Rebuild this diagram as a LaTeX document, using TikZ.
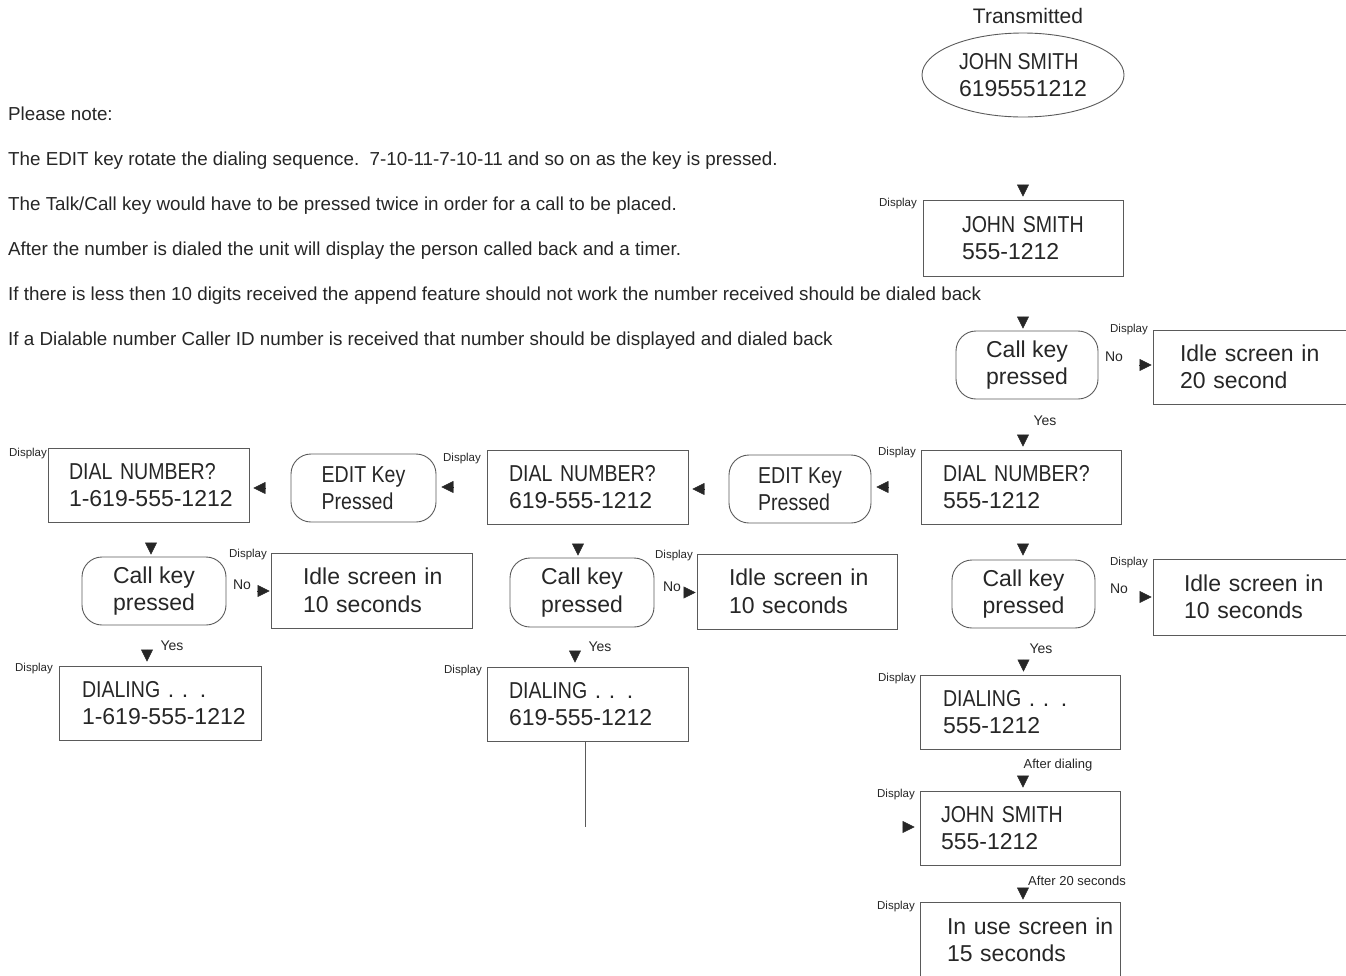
\documentclass[tikz,border=0pt]{standalone}
\usepackage{fontspec}
\setmainfont{Liberation Sans}
\newfontfamily\cnd{Liberation Sans}[FakeStretch=0.85]
\usetikzlibrary{arrows.meta,shapes.geometric}
\definecolor{ink}{HTML}{262626}
\definecolor{edge}{HTML}{5A5A5A}
\begin{document}
\begin{tikzpicture}[x=1pt,y=-1pt,
  every node/.style={text=ink},
  big/.style={font=\fontsize{23}{27.5}\selectfont},
  scr/.style={draw=edge, line width=0.9pt, big, align=left, inner ysep=0pt},
  key/.style={draw=edge, line width=0.9pt, big, rounded corners=20pt, inner sep=0pt},
  disp/.style={font=\fontsize{11.5}{13}\selectfont, inner sep=0pt},
  lbl/.style={font=\fontsize{14}{16}\selectfont, inner sep=0pt},
  small/.style={font=\fontsize{13}{15}\selectfont, inner sep=0pt},
  note/.style={font=\fontsize{18.8}{22}\selectfont, anchor=west, inner sep=0pt},
  tipc/.style 2 args={-{Triangle[length=12pt,width=12pt]}, draw=ink, fill=ink, line width=0.4pt, shorten <=#1, shorten >=#2},
  plain/.style={draw=edge, line width=0.9pt}
]
\useasboundingbox (0,0) rectangle (1346,975);
\clip (0,0) rectangle (1346,975);

% notes
\node[note] (n0) at (8,114) {Please note:};
\node[note] (n1) at (8,161) {The EDIT key rotate the dialing sequence.\ \ 7-10-11-7-10-11 and so on as the key is pressed.};
\node[note] (n2) at (8,206) {The Talk/Call key would have to be pressed twice in order for a call to be placed.};
\node[note] (n3) at (8,251) {After the number is dialed the unit will display the person called back and a timer.};
\node[note] (n4) at (8,296) {If there is less then 10 digits received the append feature should not work the number received should be dialed back};
\node[note] (n5) at (8,341) {If a Dialable number Caller ID number is received that number should be displayed and dialed back};

% transmitted
\node[font=\fontsize{21}{24}\selectfont, inner sep=0pt] (ttl) at (1028,16) {Transmitted};
\node[ellipse, draw=edge, line width=0.9pt, big, align=left, minimum width=202, minimum height=84, inner sep=0pt] (tx) at (1023,75) {{\cnd JOHN SMITH}\\6195551212};

% right column
\node[scr, minimum width=200, minimum height=76, text width=122, inner xsep=39] (js1) at (1023,238) {\mbox{\cnd JOHN SMITH}\\\mbox{555-1212}};
\node[key, minimum width=142, minimum height=68, align=center] (ck1) at (1027,365) {Call key\\pressed};
\node[scr, minimum width=207, minimum height=74, text width=153, inner xsep=27] (id20) at (1256.5,367) {\mbox{Idle screen in}\\\mbox{20 second}};
\node[scr, minimum width=200, minimum height=74, text width=156, inner xsep=22] (dn1) at (1021,487) {\mbox{\cnd DIAL NUMBER?}\\\mbox{555-1212}};
\node[key, minimum width=142, minimum height=68, align=left] (e1) at (800,489) {{\cnd EDIT Key}\\{\cnd Pressed}};
\node[scr, minimum width=201, minimum height=74, text width=157, inner xsep=22] (dn2) at (587.5,487) {\mbox{\cnd DIAL NUMBER?}\\\mbox{619-555-1212}};
\node[key, minimum width=145, minimum height=68, align=left] (e2) at (363.5,488) {{\cnd EDIT Key}\\{\cnd Pressed}};
\node[scr, minimum width=201, minimum height=74, text width=159, inner xsep=21] (dn3) at (148.5,485) {\mbox{\cnd DIAL NUMBER?}\\\mbox{1-619-555-1212}};

% left column
\node[key, minimum width=144, minimum height=68, align=center] (ck3) at (154,591) {Call key\\pressed};
\node[scr, minimum width=201, minimum height=75, text width=137, inner xsep=32] (id3) at (371.5,590.5) {\mbox{Idle screen in}\\\mbox{10 seconds}};
\node[scr, minimum width=202, minimum height=74, text width=156, inner xsep=23] (dl3) at (160,703) {\mbox{{\cnd DIALING} . . .}\\\mbox{1-619-555-1212}};

% middle column
\node[key, minimum width=144, minimum height=69, align=center] (ck2) at (582,592.5) {Call key\\pressed};
\node[scr, minimum width=200, minimum height=75, text width=136, inner xsep=32] (id2) at (797,591.5) {\mbox{Idle screen in}\\\mbox{10 seconds}};
\node[scr, minimum width=201, minimum height=74, text width=157, inner xsep=22] (dl2) at (587.5,704) {\mbox{{\cnd DIALING} . . .}\\\mbox{619-555-1212}};

% right lower column
\node[key, minimum width=143, minimum height=68, align=center] (ck1b) at (1023.5,594) {Call key\\pressed};
\node[scr, minimum width=207, minimum height=76, text width=145, inner xsep=31] (id1) at (1256.5,597) {\mbox{Idle screen in}\\\mbox{10 seconds}};
\node[scr, minimum width=200, minimum height=74, text width=154, inner xsep=23] (dl1) at (1020,712) {\mbox{{\cnd DIALING} . . .}\\\mbox{555-1212}};
\node[scr, minimum width=200, minimum height=74, text width=158, inner xsep=21] (js2) at (1020,828) {\mbox{\cnd JOHN SMITH}\\\mbox{555-1212}};
\node[scr, minimum width=200, minimum height=76, text width=146, inner xsep=27] (iu) at (1020,940) {\mbox{In use screen in}\\\mbox{15 seconds}};

% Display labels
\node[disp] (d1) at (898,204) {Display};
\node[disp] (d2) at (1129,330) {Display};
\node[disp] (d3) at (897,453) {Display};
\node[disp] (d4) at (462,459) {Display};
\node[disp] (d5) at (28,454) {Display};
\node[disp] (d6) at (248,555) {Display};
\node[disp] (d7) at (34,669) {Display};
\node[disp] (d8) at (674,556) {Display};
\node[disp] (d9) at (463,671) {Display};
\node[disp] (d10) at (1129,563) {Display};
\node[disp] (d11) at (897,679) {Display};
\node[disp] (d12) at (896,795) {Display};
\node[disp] (d13) at (896,907) {Display};

% Yes / No labels
\node[lbl] (no1) at (1114,357) {No};
\node[lbl] (no2) at (242,585) {No};
\node[lbl] (no3) at (672,587) {No};
\node[lbl] (no4) at (1119,589) {No};
\node[lbl] (y1) at (1045,421) {Yes};
\node[lbl] (y2) at (172,646) {Yes};
\node[lbl] (y3) at (600,647) {Yes};
\node[lbl] (y4) at (1041,649) {Yes};
\node[small] (ad) at (1058,765) {After dialing};
\node[small] (a20) at (1077,881) {After 20 seconds};

% connectors (arrowheads only)
\draw[tipc={68pt}{3pt}] (tx.south) -- (tx.south |- js1.north);
\draw[tipc={41pt}{2pt}] (js1.south) -- (js1.south |- ck1.north);
\draw[tipc={41pt}{1pt}] (ck1.east) -- (ck1.east -| id20.west);
\draw[tipc={36pt}{3pt}] ([xshift=-4pt]ck1.south) -- ([xshift=-4pt]ck1.south |- dn1.north);
\draw[tipc={33pt}{5pt}] (dn1.west) -- (dn1.west -| e1.east);
\draw[tipc={25pt}{4pt}] (e1.west) -- (e1.west -| dn2.east);
\draw[tipc={34pt}{5pt}] (dn2.west) -- (dn2.west -| e2.east);
\draw[tipc={26pt}{4pt}] (e2.west) -- (e2.west -| dn3.east);
\draw[tipc={21pt}{2pt}] ([xshift=2.5pt]dn3.south) -- ([xshift=2.5pt]dn3.south |- ck3.north);
\draw[tipc={31pt}{1pt}] (ck3.east) -- (ck3.east -| id3.west);
\draw[tipc={25pt}{4pt}] ([xshift=-7pt]ck3.south) -- ([xshift=-7pt]ck3.south |- dl3.north);
\draw[tipc={20pt}{2pt}] ([xshift=-9.5pt]dn2.south) -- ([xshift=-9.5pt]dn2.south |- ck2.north);
\draw[tipc={30pt}{1pt}] (ck2.east) -- (ck2.east -| id2.west);
\draw[tipc={24pt}{4pt}] ([xshift=-7pt]ck2.south) -- ([xshift=-7pt]ck2.south |- dl2.north);
\draw[tipc={20pt}{4pt}] ([xshift=2pt]dn1.south) -- ([xshift=2pt]dn1.south |- ck1b.north);
\draw[tipc={45pt}{1pt}] ([yshift=-3pt]ck1b.east) -- ([yshift=-3pt]ck1b.east -| id1.west);
\draw[tipc={32pt}{3pt}] (ck1b.south) -- (ck1b.south |- dl1.north);
\draw[tipc={27pt}{3pt}] ([xshift=3pt]dl1.south) -- ([xshift=3pt]dl1.south |- js2.north);
\draw[tipc={23pt}{2pt}] ([xshift=3pt]js2.south) -- ([xshift=3pt]js2.south |- iu.north);
\coordinate (inL) at (903,827);
\draw[tipc={0pt}{5pt}] (inL) -- (inL -| js2.west);
\coordinate (dl2end) at (585,827);
\draw[plain] (dl2.south -| dl2end) -- (dl2end);
\end{tikzpicture}
\end{document}
